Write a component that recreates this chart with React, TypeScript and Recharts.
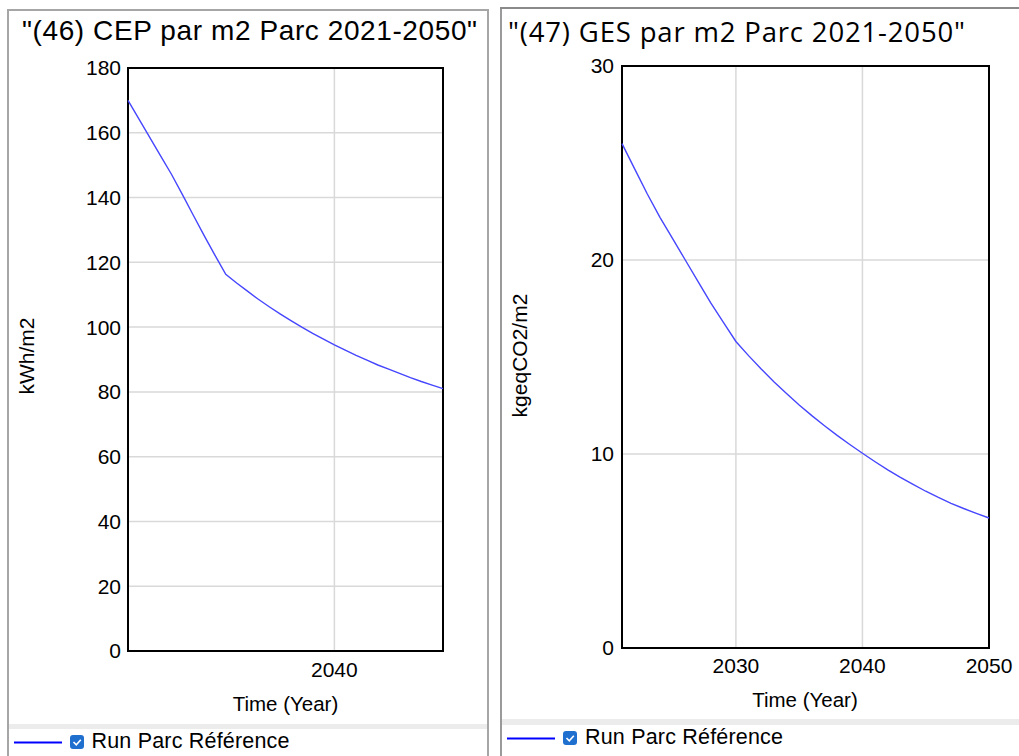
import React from 'react';
import { LineChart, Line, XAxis, YAxis, CartesianGrid, ReferenceArea } from 'recharts';

const years = [2021, 2022, 2023, 2024, 2025, 2026, 2027, 2028, 2029, 2030, 2031, 2032, 2033, 2034, 2035, 2036, 2037, 2038, 2039, 2040, 2041, 2042, 2043, 2044, 2045, 2046, 2047, 2048, 2049, 2050];
const cepValues = [170.0, 164.3, 158.6, 152.9, 147.2, 141.0, 134.6, 128.3, 122.2, 116.3, 113.6, 111.1, 108.6, 106.3, 104.1, 102.0, 100.0, 98.1, 96.3, 94.5, 92.9, 91.3, 89.8, 88.3, 87.0, 85.7, 84.4, 83.2, 82.1, 81.0];
const gesValues = [26.0, 24.7, 23.4, 22.2, 21.1, 20.0, 18.9, 17.8, 16.8, 15.8, 15.07, 14.38, 13.73, 13.12, 12.53, 11.98, 11.46, 10.96, 10.49, 10.04, 9.6, 9.18, 8.79, 8.43, 8.08, 7.76, 7.46, 7.19, 6.94, 6.7];

const cepXTicks = [2040];
const cepYTicks = [0, 20, 40, 60, 80, 100, 120, 140, 160, 180];
const gesXTicks = [2030, 2040, 2050];
const gesYTicks = [0, 10, 20, 30];

const leftTitle = '"(46) CEP par m2 Parc 2021-2050"';
const rightTitle = '"(47) GES par m2 Parc 2021-2050"';
const leftYLabel = 'kWh/m2';
const rightYLabel = 'kgeqCO2/m2';
const xLabel = 'Time (Year)';
const seriesName = 'Run Parc Référence';

const cepData = years.map((y, i) => ({ year: y, v: cepValues[i] }));
const gesData = years.map((y, i) => ({ year: y, v: gesValues[i] }));

const FONT = '"Liberation Sans", Arial, sans-serif';
const tickStyle = { fontSize: 21, fill: '#000', fontFamily: FONT };
const LINE_COLOR = '#4646ff';
const GRID = '#d9d9d9';

function Checkbox({ x, y }: { x: number; y: number }) {
  return (
    <g>
      <rect x={x} y={y} width={14} height={14} rx={3} fill="#1f6fcf" />
      <path d={`M${x + 3.5} ${y + 7} l2.8 2.8 l4.5 -5`} stroke="#fff" strokeWidth={1.6} fill="none" />
    </g>
  );
}

export default function App() {
  return (
    <div style={{ position: 'absolute', left: 0, top: 0, width: 1019, height: 756, background: '#fff', overflow: 'hidden' }}>
      <div style={{ position: 'absolute', left: 0, top: 0 }}>
        <LineChart width={490} height={700} data={cepData} margin={{ top: 68, right: 47, bottom: 0, left: 0 }}>
          <CartesianGrid stroke={GRID} strokeWidth={1.5} />
          <XAxis dataKey="year" type="number" domain={[2021, 2050]} ticks={cepXTicks} axisLine={false} tickLine={false} tickSize={0} tickMargin={11} height={49} tick={tickStyle} interval={0} />
          <YAxis type="number" domain={[0, 180]} ticks={cepYTicks} width={128} axisLine={false} tickLine={false} tickSize={0} tickMargin={7} tick={tickStyle} interval={0} />
          <Line dataKey="v" stroke={LINE_COLOR} strokeWidth={1.4} dot={false} isAnimationActive={false} />
          <ReferenceArea x1={2021} x2={2050} y1={0} y2={180} fill="none" fillOpacity={0} stroke="#000" strokeWidth={2} />
        </LineChart>
      </div>
      <div style={{ position: 'absolute', left: 500, top: 0 }}>
        <LineChart width={519} height={700} data={gesData} margin={{ top: 66, right: 30, bottom: 0, left: 0 }}>
          <CartesianGrid stroke={GRID} strokeWidth={1.5} />
          <XAxis dataKey="year" type="number" domain={[2021, 2050]} ticks={gesXTicks} axisLine={false} tickLine={false} tickSize={0} tickMargin={10} height={52} tick={tickStyle} interval={0} />
          <YAxis type="number" domain={[0, 30]} ticks={gesYTicks} width={122} axisLine={false} tickLine={false} tickSize={0} tickMargin={8} tick={tickStyle} interval={0} />
          <Line dataKey="v" stroke={LINE_COLOR} strokeWidth={1.4} dot={false} isAnimationActive={false} />
          <ReferenceArea x1={2021} x2={2050} y1={0} y2={30} fill="none" fillOpacity={0} stroke="#000" strokeWidth={2} />
        </LineChart>
      </div>
      <svg width={1019} height={756} style={{ position: 'absolute', left: 0, top: 0, pointerEvents: 'none' }}>
        <rect x={8} y={10} width={480} height={760} fill="none" stroke="#a6a6a6" strokeWidth={2} />
        <line x1={501} y1={8} x2={501} y2={756} stroke="#9a9a9a" strokeWidth={2} />
        <line x1={500} y1={8} x2={1019} y2={8} stroke="#8a8a8a" strokeWidth={2} />
        <rect x={9} y={724} width={478} height={5} fill="#ececec" />
        <rect x={502} y={719} width={517} height={6} fill="#ececec" />
        <text x={22} y={40} fontFamily={FONT} fontSize={28} fill="#000" textLength={455} lengthAdjust="spacing">{leftTitle}</text>
        <text x={508} y={41.5} fontFamily='"Open Sans", "Noto Sans", sans-serif' fontSize={27.5} fill="#000" textLength={457} lengthAdjust="spacing">{rightTitle}</text>
        <text x={34} y={356} transform="rotate(-90 34 356)" textAnchor="middle" fontFamily={FONT} fontSize={21} fill="#000">{leftYLabel}</text>
        <text x={527} y={355.5} transform="rotate(-90 527 355.5)" textAnchor="middle" fontFamily={FONT} fontSize={21} fill="#000">{rightYLabel}</text>
        <text x={285.5} y={711} textAnchor="middle" fontFamily={FONT} fontSize={20.5} fill="#000">{xLabel}</text>
        <text x={805} y={707} textAnchor="middle" fontFamily={FONT} fontSize={20.5} fill="#000">{xLabel}</text>
        <line x1={14} y1={742.5} x2={62} y2={742.5} stroke="#0000ff" strokeWidth={2} />
        <Checkbox x={70} y={735} />
        <text x={91.5} y={748} fontFamily={FONT} fontSize={21.5} fill="#000" textLength={198} lengthAdjust="spacing">{seriesName}</text>
        <line x1={507} y1={738.5} x2={555} y2={738.5} stroke="#0000ff" strokeWidth={2} />
        <Checkbox x={563} y={731} />
        <text x={585} y={744} fontFamily={FONT} fontSize={21.5} fill="#000" textLength={198} lengthAdjust="spacing">{seriesName}</text>
      </svg>
    </div>
  );
}
